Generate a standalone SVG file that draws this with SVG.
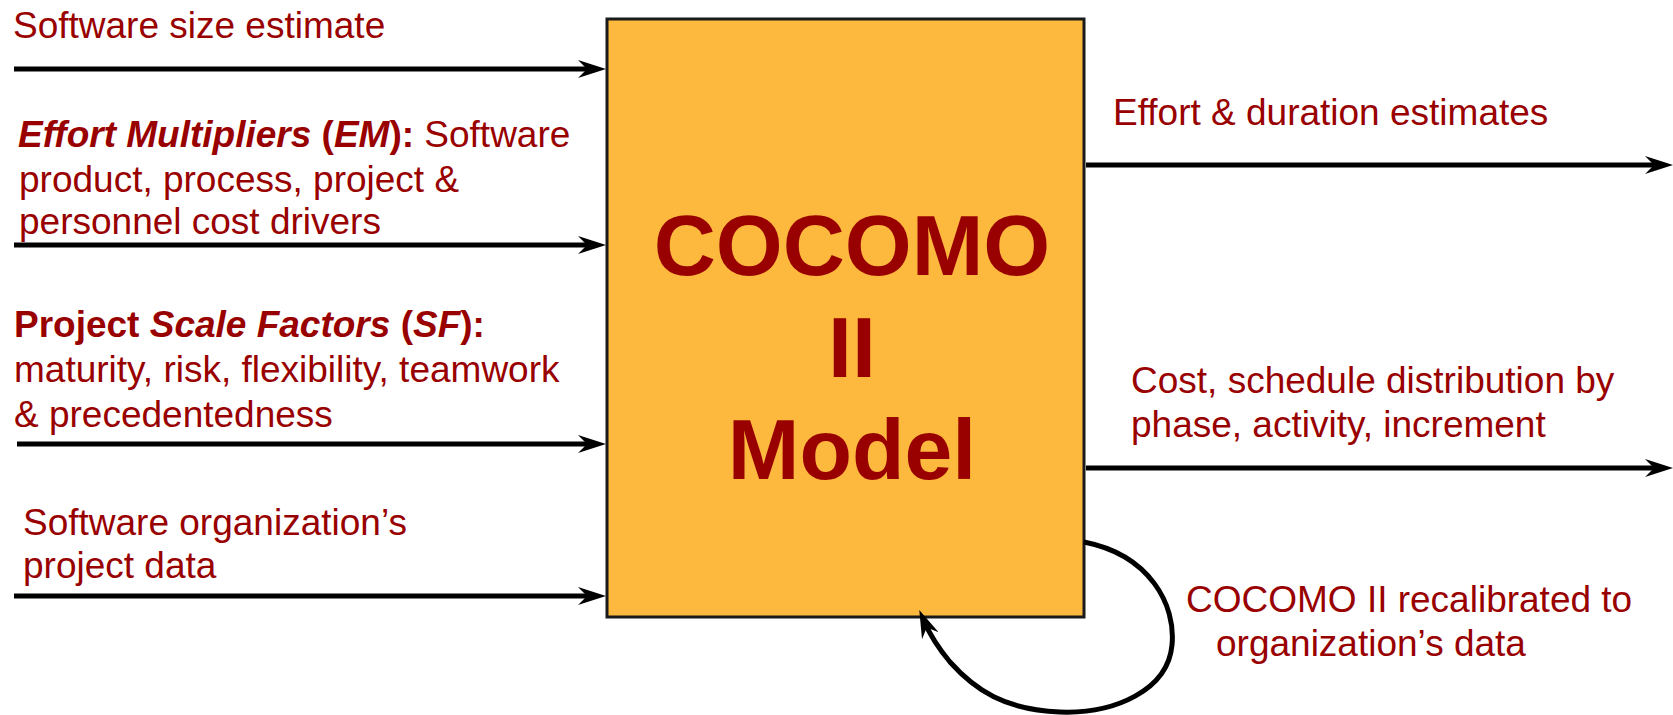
<svg xmlns="http://www.w3.org/2000/svg" width="1673" height="715" viewBox="0 0 1673 715">
  <style>
    .lbl { font-family: "Liberation Sans", Arial, sans-serif; font-size: 37px; fill: #990000; }
    .b { font-weight: bold; }
    .bi { font-weight: bold; font-style: italic; }
    .title { font-family: "Liberation Sans", Arial, sans-serif; font-size: 86px; font-weight: bold; fill: #990000; text-anchor: middle; }
    .flow { fill: none; stroke: #000; stroke-width: 5; marker-end: url(#head); }
  </style>
  <defs>
    <marker id="head" markerUnits="userSpaceOnUse" viewBox="0 0 28 18" markerWidth="28" markerHeight="18" refX="16" refY="9" orient="auto">
      <path d="M0,0 L28,9 L0,18 L9,9 Z" fill="#000"/>
    </marker>
  </defs>

  <rect width="1673" height="715" fill="#fff"/>

  <!-- central model block -->
  <g id="model">
    <rect x="607" y="19" width="477" height="598" fill="#FDB83E" stroke="#1a1a1a" stroke-width="3"/>
    <text class="title" x="852" y="275">COCOMO</text>
    <text class="title" x="852" y="377">II</text>
    <text class="title" x="852" y="479">Model</text>
  </g>

  <!-- inputs -->
  <g id="in-size">
    <text class="lbl" x="13" y="38">Software size estimate</text>
  </g>
  <g id="in-em">
    <text class="lbl" x="18" y="147"><tspan class="bi">Effort Multipliers</tspan><tspan class="b"> (</tspan><tspan class="bi">EM</tspan><tspan class="b">):</tspan> Software</text>
    <text class="lbl" x="19" y="192">product, process, project &amp;</text>
    <text class="lbl" x="19" y="234">personnel cost drivers</text>
  </g>
  <g id="in-sf">
    <text class="lbl" x="14" y="337"><tspan class="b">Project </tspan><tspan class="bi">Scale Factors</tspan><tspan class="b"> (</tspan><tspan class="bi">SF</tspan><tspan class="b">):</tspan></text>
    <text class="lbl" x="14" y="382">maturity, risk, flexibility, teamwork</text>
    <text class="lbl" x="14" y="427">&amp; precedentedness</text>
  </g>
  <g id="in-data">
    <text class="lbl" x="23" y="535">Software organization’s</text>
    <text class="lbl" x="23" y="578">project data</text>
  </g>

  <!-- outputs -->
  <g id="out-effort">
    <text class="lbl" x="1113" y="125">Effort &amp; duration estimates</text>
  </g>
  <g id="out-dist">
    <text class="lbl" x="1131" y="393">Cost, schedule distribution by</text>
    <text class="lbl" x="1131" y="437">phase, activity, increment</text>
  </g>
  <g id="recal">
    <text class="lbl" x="1186" y="612">COCOMO II recalibrated to</text>
    <text class="lbl" x="1216" y="656">organization’s data</text>
  </g>

  <!-- connectors -->
  <g id="connectors">
    <line class="flow" x1="14" y1="69" x2="594" y2="69"/>
    <line class="flow" x1="14" y1="245" x2="594" y2="245"/>
    <line class="flow" x1="17" y1="444" x2="594" y2="444"/>
    <line class="flow" x1="14" y1="596" x2="594" y2="596"/>
    <line class="flow" x1="1086" y1="165" x2="1661" y2="165"/>
    <line class="flow" x1="1086" y1="468" x2="1661" y2="468"/>
    <path class="flow" d="M1084,542 C1150,555 1176,605 1172,645 C1168,690 1115,714 1060,712 C1005,710 975,690 950,662 C940,650 930,635 924,621"/>
  </g>
</svg>
